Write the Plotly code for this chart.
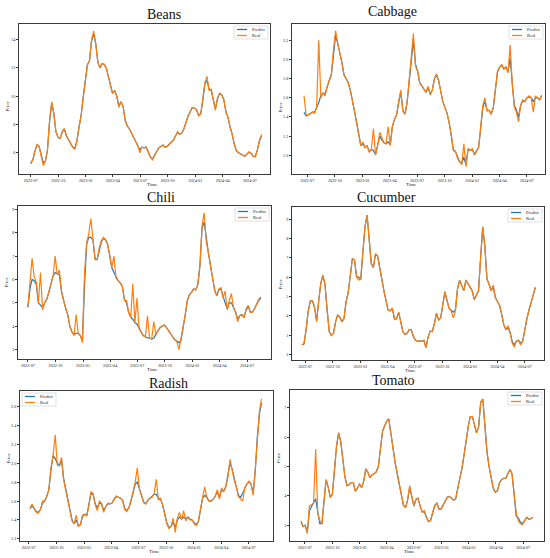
import pandas as pd
import plotly.graph_objects as go

W, H = 550, 558

# weekly prices (start date + one value per week)
beans_start = "2022-07-01"
beans_real = [5.2, 5.5, 6.1, 6.6, 6.45, 5.8, 5.1, 5.4, 6.2, 8.3,
              9.6, 8.8, 7.5, 7.1, 7.0, 7.5, 7.7, 7.2, 6.9, 6.7,
              6.4, 6.25, 6.8, 7.8, 8.6, 9.9, 10.9, 12.2, 12.5, 14.0,
              14.6, 13.7, 12.4, 12.0, 12.3, 12.25, 12.0, 11.35, 10.8, 10.2,
              10.4, 10.0, 9.2, 9.6, 9.3, 8.3, 7.9, 7.7, 7.4, 7.1,
              6.85, 6.5, 6.0, 6.4, 6.35, 6.4, 6.05, 5.7, 5.5, 5.8,
              6.15, 6.35, 6.45, 6.55, 6.4, 6.45, 6.6, 6.75, 6.9, 7.2,
              7.5, 7.3, 7.4, 7.7, 8.2, 8.6, 8.9, 9.2, 9.15, 9.05,
              8.6, 8.75, 9.8, 11.0, 11.4, 10.4, 10.5, 9.6, 9.0, 9.9,
              10.2, 10.1, 9.75, 8.9, 8.5, 7.8, 7.3, 6.6, 6.15, 6.0,
              5.9, 5.85, 5.75, 5.9, 6.05, 5.95, 5.75, 5.7, 6.2, 6.9,
              7.3]
beans_pred = [5.25, 5.5, 6.1, 6.55, 6.45, 5.85, 5.3, 5.4, 6.2, 8.2,
              9.5, 8.8, 7.5, 7.1, 7.0, 7.45, 7.7, 7.2, 6.9, 6.7,
              6.4, 6.3, 6.8, 7.8, 8.6, 9.9, 10.9, 12.2, 12.5, 13.9,
              14.4, 13.7, 12.4, 12.0, 12.3, 12.25, 12.0, 11.35, 10.8, 10.2,
              10.4, 10.0, 9.3, 9.6, 9.3, 8.3, 7.9, 7.7, 7.4, 7.1,
              6.85, 6.5, 6.2, 6.4, 6.35, 6.4, 6.05, 5.7, 5.55, 5.8,
              6.15, 6.35, 6.45, 6.55, 6.4, 6.45, 6.6, 6.75, 6.9, 7.2,
              7.45, 7.3, 7.4, 7.7, 8.2, 8.6, 8.9, 9.2, 9.15, 9.05,
              8.65, 8.75, 9.7, 10.9, 11.1, 10.5, 10.4, 9.7, 9.1, 9.8,
              10.2, 10.1, 9.75, 8.9, 8.5, 7.8, 7.3, 6.6, 6.15, 6.0,
              5.9, 5.85, 5.75, 5.9, 6.05, 5.95, 5.75, 5.75, 6.2, 6.85,
              7.2]

cabbage_start = "2022-06-20"
cabbage_real = [1.62, 1.42, 1.42, 1.44, 1.45, 1.44, 1.5, 2.2, 1.6, 1.65,
                1.62, 1.72, 1.78, 1.85, 2.1, 2.3, 2.17, 2.08, 1.97, 1.84,
                1.8, 1.76, 1.68, 1.58, 1.46, 1.34, 1.2, 1.1, 1.14, 1.08,
                1.1, 1.03, 1.06, 1.28, 1.0, 1.1, 1.24, 1.18, 1.13, 1.12,
                1.3, 1.1, 1.3, 1.38, 1.42, 1.56, 1.68, 1.46, 1.43, 1.55,
                1.78, 2.0, 2.27, 1.93, 1.88, 1.76, 1.72, 1.69, 1.66, 1.72,
                1.63, 1.68, 1.8, 1.85, 1.78, 1.66, 1.56, 1.5, 1.44, 1.34,
                1.22, 1.05, 1.04, 0.97, 0.93, 0.9, 1.12, 0.88, 1.07, 1.05,
                1.07, 1.0, 1.04, 1.08, 1.3, 1.52, 1.6, 1.46, 1.47, 1.43,
                1.5, 1.72, 1.88, 1.92, 1.95, 1.9, 1.92, 1.86, 2.15, 1.75,
                1.5, 1.45, 1.35, 1.52, 1.58, 1.56, 1.6, 1.62, 1.6, 1.45,
                1.62, 1.6, 1.58, 1.63]
cabbage_pred = [1.45, 1.41, 1.42, 1.44, 1.45, 1.45, 1.5, 1.55, 1.62, 1.65,
                1.64, 1.72, 1.78, 1.84, 2.08, 2.25, 2.17, 2.08, 1.97, 1.84,
                1.8, 1.76, 1.68, 1.58, 1.46, 1.34, 1.2, 1.1, 1.12, 1.08,
                1.1, 1.04, 1.06, 1.05, 1.01, 1.1, 1.2, 1.16, 1.13, 1.12,
                1.14, 1.11, 1.3, 1.37, 1.42, 1.55, 1.66, 1.47, 1.43, 1.55,
                1.78, 2.0, 2.2, 1.95, 1.88, 1.76, 1.72, 1.69, 1.66, 1.7,
                1.64, 1.68, 1.8, 1.84, 1.78, 1.66, 1.56, 1.5, 1.44, 1.34,
                1.22, 1.06, 1.04, 0.98, 0.93, 0.92, 0.98, 0.9, 1.07, 1.05,
                1.06, 1.01, 1.04, 1.08, 1.28, 1.5, 1.56, 1.47, 1.47, 1.43,
                1.5, 1.7, 1.87, 1.92, 1.94, 1.9, 1.92, 1.87, 2.02, 1.75,
                1.52, 1.47, 1.4, 1.52, 1.57, 1.56, 1.6, 1.61, 1.6, 1.56,
                1.6, 1.6, 1.58, 1.62]

chili_start = "2022-07-01"
chili_real = [4.85, 5.9, 6.9, 6.1, 5.9, 5.0, 6.3, 4.7, 5.0, 5.15,
              5.45, 5.85, 6.15, 7.0, 6.2, 6.4, 5.5, 5.1, 4.75, 4.5,
              4.0, 3.75, 3.6, 4.5, 3.7, 3.6, 3.3, 6.3, 7.55, 7.95,
              8.6, 7.7, 6.85, 6.85, 7.35, 7.65, 7.8, 7.7, 7.5, 7.05,
              6.5, 7.0, 6.05, 5.95, 5.85, 5.7, 5.1, 5.1, 4.6, 4.4,
              5.8, 4.15, 5.2, 3.9, 3.75, 3.6, 3.55, 4.45, 3.5, 3.45,
              4.2, 3.65, 3.8, 3.95, 4.0, 4.05, 3.95, 3.8, 3.7, 3.55,
              3.42, 3.35, 3.0, 3.45, 3.9, 4.5, 5.1, 5.35, 5.45, 5.6,
              5.55, 5.8, 6.6, 8.3, 8.85, 7.65, 7.15, 6.6, 6.05, 5.55,
              5.3, 5.6, 5.65, 5.2, 5.5, 4.7, 5.1, 5.4, 4.8, 4.6,
              4.2, 4.45, 4.5, 4.35, 4.75, 4.9, 4.6, 4.6, 4.75, 4.95,
              5.15, 5.25]
chili_pred = [4.8, 5.6, 6.0, 5.95, 5.8, 5.0, 4.9, 4.8, 5.0, 5.15,
              5.45, 5.85, 6.15, 6.3, 6.25, 6.2, 5.5, 5.1, 4.75, 4.5,
              4.0, 3.75, 3.65, 3.7, 3.7, 3.6, 3.4, 5.8, 7.5, 7.8,
              7.8, 7.7, 6.9, 6.85, 7.3, 7.6, 7.75, 7.7, 7.5, 7.05,
              6.5, 6.3, 6.1, 5.95, 5.85, 5.7, 5.15, 5.0, 4.6, 4.4,
              4.3, 4.15, 4.1, 3.9, 3.75, 3.6, 3.55, 3.5, 3.5, 3.45,
              3.5, 3.65, 3.8, 3.95, 4.0, 4.05, 3.95, 3.8, 3.7, 3.55,
              3.42, 3.35, 3.3, 3.4, 3.9, 4.5, 5.1, 5.35, 5.45, 5.6,
              5.55, 5.8, 6.6, 8.2, 8.45, 7.7, 7.15, 6.6, 6.05, 5.55,
              5.3, 5.55, 5.6, 5.25, 5.0, 4.75, 5.0, 5.0, 4.8, 4.6,
              4.3, 4.45, 4.5, 4.4, 4.7, 4.85, 4.6, 4.6, 4.75, 4.95,
              5.1, 5.2]

cucumber_start = "2022-06-20"
cucumber_real = [2.5, 2.6, 3.3, 4.25, 4.78, 4.78, 4.45, 3.7, 4.8, 5.7,
                 6.1, 5.6, 4.3, 3.2, 2.99, 3.1, 3.7, 4.05, 3.95, 3.7,
                 3.85, 4.73, 5.2, 6.1, 6.95, 6.9, 6.0, 5.85, 5.9, 7.3,
                 8.6, 9.2, 8.05, 6.7, 6.5, 7.2, 7.1, 6.45, 5.8, 5.3,
                 4.8, 4.3, 4.27, 4.4, 3.85, 3.85, 4.2, 3.7, 3.2, 3.05,
                 3.1, 3.3, 3.3, 2.95, 2.75, 2.7, 2.7, 2.7, 2.75, 2.35,
                 2.9, 3.22, 3.2, 3.6, 4.15, 3.8, 3.9, 4.6, 5.25, 4.8,
                 4.4, 4.25, 3.9, 4.25, 5.4, 5.85, 5.6, 5.3, 5.85, 5.65,
                 5.45, 5.3, 4.85, 5.1, 5.3, 7.0, 8.6, 7.6, 5.9, 5.65,
                 5.3, 5.6, 4.95, 4.75, 4.55, 4.1, 3.55, 3.3, 3.5, 3.15,
                 2.6, 2.4, 2.7, 2.75, 2.5, 2.7, 3.4, 3.85, 4.3, 4.7,
                 5.1, 5.5]
cucumber_pred = [2.5, 2.55, 3.3, 4.25, 4.78, 4.78, 4.45, 3.75, 4.8, 5.7,
                 6.1, 5.6, 4.3, 3.2, 3.0, 3.1, 3.7, 4.05, 3.95, 3.7,
                 3.85, 4.73, 5.2, 6.1, 6.95, 6.9, 6.05, 6.0, 5.9, 7.3,
                 8.6, 9.2, 8.05, 6.7, 6.5, 7.2, 7.1, 6.45, 5.8, 5.3,
                 4.8, 4.3, 4.27, 4.4, 3.85, 3.85, 4.2, 3.7, 3.2, 3.05,
                 3.1, 3.3, 3.3, 2.95, 2.75, 2.7, 2.7, 2.7, 2.75, 2.4,
                 2.9, 3.22, 3.2, 3.6, 4.15, 3.8, 3.9, 4.6, 5.25, 4.8,
                 4.4, 4.3, 4.2, 4.3, 5.4, 5.85, 5.6, 5.3, 5.85, 5.65,
                 5.45, 5.3, 4.85, 5.1, 5.3, 7.0, 8.6, 7.6, 5.9, 5.65,
                 5.3, 5.5, 4.95, 4.75, 4.55, 4.1, 3.55, 3.3, 3.4, 3.15,
                 2.7, 2.5, 2.7, 2.75, 2.6, 2.7, 3.4, 3.85, 4.3, 4.7,
                 5.1, 5.45]

radish_start = "2022-07-05"
radish_real = [1.52, 1.57, 1.52, 1.48, 1.47, 1.51, 1.6, 1.6, 1.65, 1.72,
               1.95, 2.08, 2.3, 1.98, 1.97, 2.06, 1.82, 1.72, 1.63, 1.5,
               1.39, 1.36, 1.45, 1.33, 1.35, 1.45, 1.46, 1.44, 1.55, 1.7,
               1.68, 1.56, 1.5, 1.6, 1.58, 1.48, 1.54, 1.58, 1.57, 1.58,
               1.62, 1.65, 1.64, 1.63, 1.61, 1.51, 1.49, 1.53, 1.61, 1.71,
               1.8, 1.95, 1.72, 1.66, 1.58, 1.57, 1.61, 1.63, 1.64, 1.68,
               1.83, 1.61, 1.63, 1.56, 1.47, 1.36, 1.31, 1.33, 1.42, 1.27,
               1.42, 1.48, 1.4, 1.5, 1.39, 1.43, 1.4, 1.4, 1.36, 1.34,
               1.39, 1.53, 1.64, 1.75, 1.64, 1.6, 1.6, 1.62, 1.65, 1.72,
               1.62, 1.74, 1.7, 1.75, 1.85, 2.04, 1.93, 1.82, 1.75, 1.65,
               1.62, 1.6, 1.74, 1.78, 1.81, 1.78, 1.66, 1.93, 2.3, 2.55,
               2.68]
radish_pred = [1.52, 1.55, 1.52, 1.49, 1.48, 1.51, 1.58, 1.6, 1.65, 1.72,
               1.93, 2.08, 2.05, 2.0, 1.97, 2.04, 1.84, 1.72, 1.64, 1.5,
               1.4, 1.36, 1.4, 1.34, 1.35, 1.44, 1.46, 1.45, 1.55, 1.68,
               1.67, 1.57, 1.53, 1.58, 1.57, 1.5, 1.54, 1.57, 1.57, 1.58,
               1.62, 1.65, 1.64, 1.63, 1.61, 1.52, 1.5, 1.53, 1.6, 1.7,
               1.78, 1.8, 1.74, 1.66, 1.59, 1.57, 1.61, 1.63, 1.64, 1.67,
               1.67, 1.63, 1.62, 1.56, 1.47, 1.37, 1.32, 1.33, 1.38, 1.32,
               1.4, 1.43, 1.41, 1.43, 1.41, 1.43, 1.41, 1.4, 1.37, 1.35,
               1.38, 1.52, 1.63, 1.66, 1.64, 1.6, 1.6, 1.62, 1.65, 1.7,
               1.64, 1.72, 1.7, 1.75, 1.86, 2.0, 1.94, 1.83, 1.75, 1.66,
               1.64, 1.68, 1.73, 1.78, 1.8, 1.78, 1.68, 1.92, 2.28, 2.52,
               2.64]

tomato_start = "2022-06-18"
tomato_real = [3.15, 2.95, 3.0, 2.72, 3.65, 3.7, 3.75, 5.6, 3.4, 3.15,
               3.05, 3.85, 4.55, 4.3, 3.95, 4.05, 4.9, 5.7, 6.15, 5.85,
               5.25, 4.65, 4.35, 4.38, 4.45, 4.45, 4.15, 4.27, 4.4, 4.28,
               4.5, 4.92, 4.8, 4.62, 4.72, 4.75, 4.82, 5.0, 5.55, 6.2,
               6.38, 6.55, 6.62, 6.1, 5.5, 5.15, 4.8, 4.4, 3.95, 3.68,
               3.6, 3.85, 4.35, 4.0, 3.65, 3.88, 3.92, 3.65, 3.45, 3.5,
               3.25, 3.12, 3.16, 3.45, 3.67, 3.75, 3.55, 3.55, 3.68, 3.8,
               3.95, 3.98, 3.9, 3.85, 3.9, 4.3, 4.6, 4.93, 5.35, 5.85,
               6.35, 6.7, 6.7, 6.45, 6.15, 6.35, 7.2, 7.3, 6.4, 5.5,
               5.0, 4.6, 4.28, 4.12, 4.18, 4.45, 4.55, 4.6, 4.6, 4.75,
               4.9, 4.75, 4.0, 3.4, 3.15, 3.05, 3.02, 3.15, 3.28, 3.2,
               3.22, 3.27]
tomato_pred = [3.1, 2.95, 3.0, 2.75, 3.5, 3.65, 3.8, 3.9, 3.45, 3.05,
               3.05, 3.85, 4.55, 4.3, 3.95, 4.05, 4.9, 5.7, 6.15, 5.85,
               5.25, 4.65, 4.35, 4.38, 4.45, 4.45, 4.15, 4.27, 4.4, 4.28,
               4.5, 4.92, 4.8, 4.62, 4.72, 4.75, 4.82, 5.0, 5.55, 6.2,
               6.38, 6.55, 6.62, 6.1, 5.5, 5.15, 4.75, 4.4, 3.95, 3.68,
               3.6, 3.85, 4.3, 4.0, 3.65, 3.88, 3.92, 3.65, 3.45, 3.45,
               3.25, 3.12, 3.16, 3.45, 3.67, 3.75, 3.55, 3.55, 3.68, 3.8,
               3.95, 3.98, 3.9, 3.85, 3.9, 4.3, 4.6, 4.93, 5.35, 5.85,
               6.35, 6.7, 6.7, 6.45, 6.15, 6.35, 7.2, 7.3, 6.4, 5.5,
               5.0, 4.6, 4.25, 4.12, 4.18, 4.45, 4.55, 4.6, 4.6, 4.75,
               4.9, 4.75, 4.05, 3.3, 3.25, 3.1, 3.05, 3.15, 3.26, 3.2,
               3.22, 3.27]

date_ticks = ["2022-07-01", "2022-10-01", "2023-01-01", "2023-04-01", "2023-07-01",
              "2023-10-01", "2024-01-01", "2024-04-01", "2024-07-01"]
date_labels = ["2022-07", "2022-10", "2023-01", "2023-04", "2023-07",
               "2023-10", "2024-01", "2024-04", "2024-07"]

# layout of each panel in pixels: frame (left, right, top, bottom), title y, legend corner
panels = [
    dict(name="Beans", start=beans_start, real=beans_real, pred=beans_pred,
         frame=(19, 270, 24, 174), title_y=15, legend="right",
         xr=["2022-05-23", "2024-09-06"], yr=[4.5, 15.1], yt=[6, 8, 10, 12, 14], fmt="d"),
    dict(name="Cabbage", start=cabbage_start, real=cabbage_real, pred=cabbage_pred,
         frame=(292, 545, 24, 174), title_y=12, legend="right",
         xr=["2022-05-11", "2024-08-30"], yr=[0.805, 2.37],
         yt=[1.0, 1.2, 1.4, 1.6, 1.8, 2.0, 2.2], fmt=".1f"),
    dict(name="Chili", start=chili_start, real=chili_real, pred=chili_pred,
         frame=(18, 271, 206, 359), title_y=197, legend="right",
         xr=["2022-05-29", "2024-09-19"], yr=[2.6, 9.14], yt=[3, 4, 5, 6, 7, 8, 9], fmt="d"),
    dict(name="Cucumber", start=cucumber_start, real=cucumber_real, pred=cucumber_pred,
         frame=(292, 544, 207, 360), title_y=197, legend="right",
         xr=["2022-05-18", "2024-09-03"], yr=[1.73, 9.62], yt=[2, 3, 4, 5, 6, 7, 8, 9], fmt="d"),
    dict(name="Radish", start=radish_start, real=radish_real, pred=radish_pred,
         frame=(20, 273, 391, 541), title_y=383, legend="left",
         xr=["2022-06-02", "2024-09-20"], yr=[1.178, 2.762],
         yt=[1.2, 1.4, 1.6, 1.8, 2.0, 2.2, 2.4, 2.6], fmt=".1f"),
    dict(name="Tomato", start=tomato_start, real=tomato_real, pred=tomato_pred,
         frame=(290, 544, 390, 541), title_y=380, legend="right",
         xr=["2022-05-12", "2024-09-09"], yr=[2.46, 7.61], yt=[3, 4, 5, 6, 7], fmt="d"),
]

BLUE, ORANGE = "#1f77b4", "#ff7f0e"
SERIF = "Liberation Serif"
FRAME = "#3a3a3a"


def px_x(v):
    return v / W


def px_y(v):
    return 1 - v / H


fig = go.Figure()
shapes, notes = [], []

for i, p in enumerate(panels, start=1):
    xa, ya = ("x", "y") if i == 1 else (f"x{i}", f"y{i}")
    for vals, color, label in ((p["pred"], BLUE, "Predict"), (p["real"], ORANGE, "Real")):
        dates = pd.date_range(p["start"], periods=len(vals), freq="7D")
        fig.add_trace(go.Scatter(x=dates, y=vals, mode="lines", name=label,
                                 line=dict(color=color, width=1.2),
                                 xaxis=xa, yaxis=ya, showlegend=False))

    l, r, t, b = p["frame"]
    axis_style = dict(showline=True, mirror=True, linecolor=FRAME, linewidth=0.8,
                      ticks="outside", ticklen=2, tickwidth=0.6, tickcolor=FRAME,
                      showgrid=False, zeroline=False,
                      tickfont=dict(family=SERIF, size=4.2, color="#222"))
    xkey = "xaxis" if i == 1 else f"xaxis{i}"
    ykey = "yaxis" if i == 1 else f"yaxis{i}"
    fig.update_layout(**{
        xkey: dict(domain=[px_x(l), px_x(r)], range=p["xr"], anchor=ya,
                   tickvals=date_ticks, ticktext=date_labels, **axis_style),
        ykey: dict(domain=[px_y(b), px_y(t)], range=p["yr"], anchor=xa,
                   tickvals=p["yt"], tickformat=p["fmt"], **axis_style),
    })

    # panel title and axis labels
    notes.append(dict(x=px_x((l + r) / 2), y=px_y(p["title_y"]), xref="paper", yref="paper",
                      text=p["name"], showarrow=False, yanchor="middle",
                      font=dict(family=SERIF, size=14, color="#111")))
    notes.append(dict(x=px_x((l + r) / 2), y=px_y(b + 10), xref="paper", yref="paper",
                      text="Time", showarrow=False, yanchor="middle",
                      font=dict(family=SERIF, size=5, color="#222")))
    notes.append(dict(x=px_x(l - 12), y=px_y((t + b) / 2), xref="paper", yref="paper",
                      text="Price", showarrow=False, textangle=-90, xanchor="center",
                      font=dict(family=SERIF, size=5, color="#222")))

    # small matplotlib-style legend box
    bw, bh = 34, 13
    bx0 = r - bw - 2 if p["legend"] == "right" else l + 2
    by0 = t + 2
    shapes.append(dict(type="rect", xref="paper", yref="paper",
                       x0=px_x(bx0), x1=px_x(bx0 + bw), y0=px_y(by0), y1=px_y(by0 + bh),
                       line=dict(color="#cfcfcf", width=0.6), fillcolor="rgba(255,255,255,0.85)"))
    for row, (color, label) in enumerate(((BLUE, "Predict"), (ORANGE, "Real"))):
        ry = by0 + 3.5 + row * 6
        shapes.append(dict(type="line", xref="paper", yref="paper",
                           x0=px_x(bx0 + 3), x1=px_x(bx0 + 13), y0=px_y(ry), y1=px_y(ry),
                           line=dict(color=color, width=1.3)))
        notes.append(dict(x=px_x(bx0 + 16), y=px_y(ry), xref="paper", yref="paper",
                          text=label, showarrow=False, xanchor="left", yanchor="middle",
                          font=dict(family=SERIF, size=4.5, color="#222")))

fig.update_layout(width=W, height=H, margin=dict(l=0, r=0, t=0, b=0),
                  paper_bgcolor="white", plot_bgcolor="white",
                  showlegend=False, shapes=shapes, annotations=notes)

# the page's default body margin would shift the 550x558 figure by 8px
fig.write_html("out.html", config={"displayModeBar": False},
               post_script="document.body.style.margin='0px';")
